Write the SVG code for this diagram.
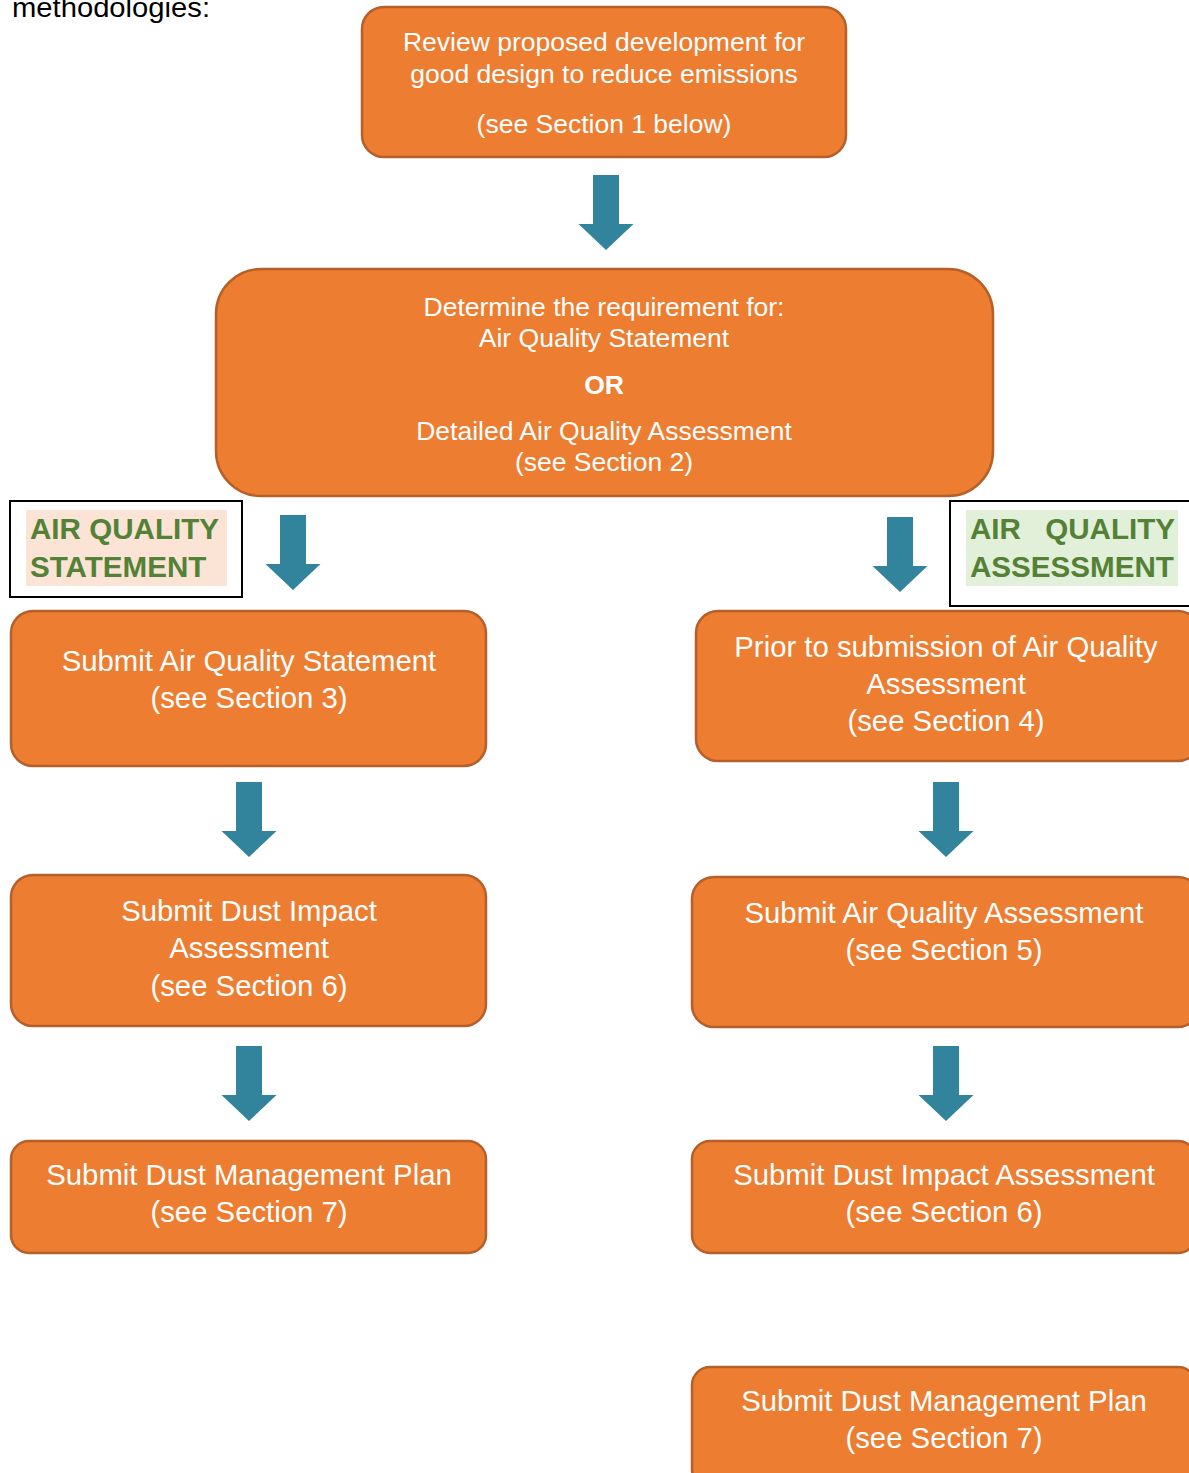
<svg xmlns="http://www.w3.org/2000/svg" xmlns:xlink="http://www.w3.org/1999/xlink" width="1189" height="1473" viewBox="0 0 1189 1473">
<style>
.box{fill:#ED7D31;stroke:#B5602A;stroke-width:2.5}
.t{font-family:"Liberation Sans",Arial,sans-serif;fill:#FFFFFF;text-anchor:middle}
.t26{font-size:26.5px}
.t29{font-size:29.3px}
.lbl{font-family:"Liberation Sans",Arial,sans-serif;font-weight:bold;font-size:29.6px;fill:#538135}
.arr{fill:#31849B}
</style>
<defs>
<path id="arrow" d="M-13,0 H13 V49 H27.5 L0,75 L-27.5,49 H-13 Z"/>
</defs>
<rect width="1189" height="1473" fill="#FFFFFF"/>
<text x="12" y="17" font-family="Liberation Sans,Arial,sans-serif" font-size="27" textLength="198" lengthAdjust="spacingAndGlyphs" fill="#000">methodologies:</text>

<g id="connectors" class="arr">
<use xlink:href="#arrow" x="606" y="175"/>
<use xlink:href="#arrow" x="293" y="515"/>
<use xlink:href="#arrow" x="900" y="517"/>
<use xlink:href="#arrow" x="249" y="782"/>
<use xlink:href="#arrow" x="946" y="782"/>
<use xlink:href="#arrow" x="249" y="1046"/>
<use xlink:href="#arrow" x="946" y="1046"/>
</g>

<g id="n1">
<rect class="box" x="362" y="7" width="484" height="150" rx="22"/>
<text class="t t26" x="604" y="51">Review proposed development for</text>
<text class="t t26" x="604" y="83">good design to reduce emissions</text>
<text class="t t26" x="604" y="133">(see Section 1 below)</text>
</g>

<g id="n2">
<rect class="box" x="216" y="269" width="777" height="227" rx="45"/>
<text class="t t26" x="604" y="316">Determine the requirement for:</text>
<text class="t t26" x="604" y="347">Air Quality Statement</text>
<text class="t t26" x="604" y="394" font-weight="bold">OR</text>
<text class="t t26" x="604" y="440">Detailed Air Quality Assessment</text>
<text class="t t26" x="604" y="471">(see Section 2)</text>
</g>

<g id="label-aqs">
<rect x="10" y="501" width="232" height="96" fill="#FFFFFF" stroke="#000" stroke-width="2"/>
<rect x="26" y="510" width="201" height="76" fill="#FBE4D5"/>
<text class="lbl" x="30" y="539">AIR QUALITY</text>
<text class="lbl" x="30" y="577">STATEMENT</text>
</g>

<g id="label-aqa">
<rect x="950" y="501" width="250" height="105" fill="#FFFFFF" stroke="#000" stroke-width="2"/>
<rect x="966" y="510" width="212" height="76" fill="#E2EFD9"/>
<text class="lbl" x="970" y="539" word-spacing="16">AIR QUALITY</text>
<text class="lbl" x="970" y="577">ASSESSMENT</text>
</g>

<g id="l1">
<rect class="box" x="11" y="611" width="475" height="155" rx="22"/>
<text class="t t29" x="249" y="671">Submit Air Quality Statement</text>
<text class="t t29" x="249" y="708">(see Section 3)</text>
</g>

<g id="r1">
<rect class="box" x="696" y="611" width="504" height="150" rx="22"/>
<text class="t t29" x="946" y="657">Prior to submission of Air Quality</text>
<text class="t t29" x="946" y="694">Assessment</text>
<text class="t t29" x="946" y="731">(see Section 4)</text>
</g>

<g id="l2">
<rect class="box" x="11" y="875" width="475" height="151" rx="22"/>
<text class="t t29" x="249" y="921">Submit Dust Impact</text>
<text class="t t29" x="249" y="958">Assessment</text>
<text class="t t29" x="249" y="996">(see Section 6)</text>
</g>

<g id="r2">
<rect class="box" x="692" y="877" width="508" height="150" rx="22"/>
<text class="t t29" x="944" y="923">Submit Air Quality Assessment</text>
<text class="t t29" x="944" y="960">(see Section 5)</text>
</g>

<g id="l3">
<rect class="box" x="11" y="1141" width="475" height="112" rx="18"/>
<text class="t t29" x="249" y="1185">Submit Dust Management Plan</text>
<text class="t t29" x="249" y="1222">(see Section 7)</text>
</g>

<g id="r3">
<rect class="box" x="692" y="1141" width="504" height="112" rx="18"/>
<text class="t t29" x="944" y="1185">Submit Dust Impact Assessment</text>
<text class="t t29" x="944" y="1222">(see Section 6)</text>
</g>

<g id="r4">
<rect class="box" x="692" y="1367" width="504" height="120" rx="18"/>
<text class="t t29" x="944" y="1411">Submit Dust Management Plan</text>
<text class="t t29" x="944" y="1448">(see Section 7)</text>
</g>
</svg>
